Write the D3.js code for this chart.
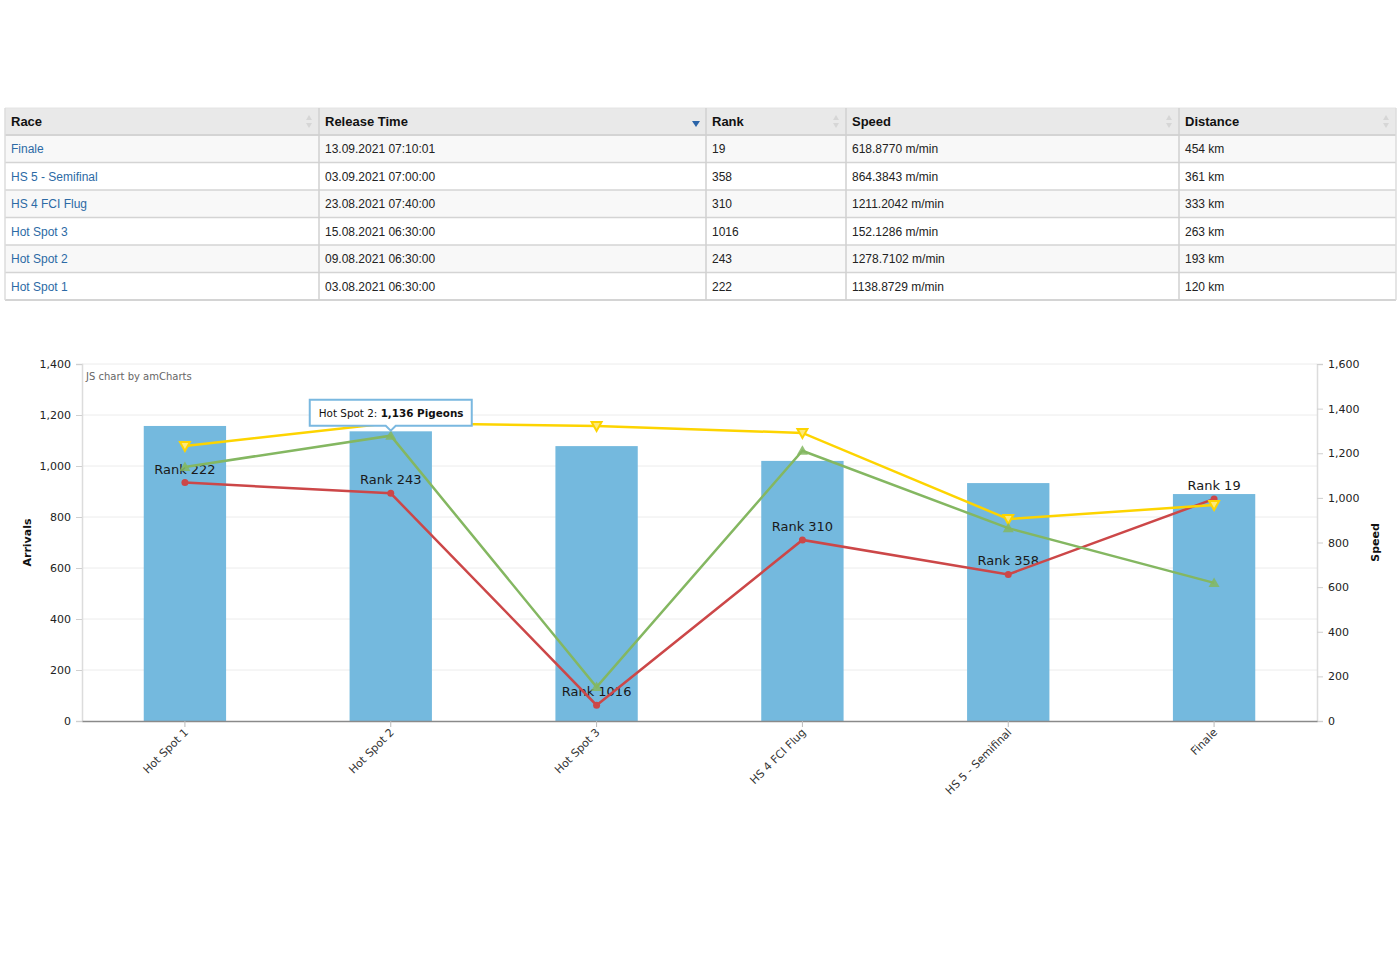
<!DOCTYPE html>
<html>
<head>
<meta charset="utf-8">
<script src="https://cdn.jsdelivr.net/npm/d3@7/dist/d3.min.js"></script>
<style>
	body { margin: 0; background: #fff; }
	svg { display: block; }
</style>
</head>
<body>
<div id="viz"></div>
<script>
"use strict";

// ---- table data (rows in the order shown, newest first)
var tableCols = ["Race", "Release Time", "Rank", "Speed", "Distance"];
var tableRaces = ["Finale", "HS 5 - Semifinal", "HS 4 FCI Flug", "Hot Spot 3", "Hot Spot 2", "Hot Spot 1"];
var releaseTimes = ["13.09.2021 07:10:01", "03.09.2021 07:00:00", "23.08.2021 07:40:00",
	"15.08.2021 06:30:00", "09.08.2021 06:30:00", "03.08.2021 06:30:00"];
var tableRanks = ["19", "358", "310", "1016", "243", "222"];
var tableSpeeds = ["618.8770 m/min", "864.3843 m/min", "1211.2042 m/min",
	"152.1286 m/min", "1278.7102 m/min", "1138.8729 m/min"];
var distances = ["454 km", "361 km", "333 km", "263 km", "193 km", "120 km"];

// ---- chart data (oldest first)
var races = ["Hot Spot 1", "Hot Spot 2", "Hot Spot 3", "HS 4 FCI Flug", "HS 5 - Semifinal", "Finale"];
var arrivals = [1157, 1136, 1078, 1020, 933, 890];      // bars, left axis
var ranks = [222, 243, 1016, 310, 358, 19];
var behindCount = [935, 893, 62, 710, 575, 871];       // red line, left axis
var speed = [1138.87, 1278.71, 152.13, 1211.20, 864.38, 618.88]; // green line, right axis
var topSpeed = [1233, 1336, 1322, 1291, 905, 968];     // yellow line, right axis
var leftTicks = [0, 200, 400, 600, 800, 1000, 1200, 1400];
var rightTicks = [0, 200, 400, 600, 800, 1000, 1200, 1400, 1600];

var W = 1400, H = 960,
	font = "'DejaVu Sans', Verdana, sans-serif",
	tableFont = "Arial, 'Liberation Sans', sans-serif",
	blue = "#74b9de",
	red = "#cc4748",
	green = "#84b761",
	yellow = "#fdd400";

var svg = d3.select("#viz")
	.append("svg")
	.attr("width", W)
	.attr("height", H)

// =================== TABLE ===================
var colEdges = [5, 319, 706, 846, 1179, 1396],
	headTop = 108,
	headH = 27,
	rowH = 27.5

var table = svg.append("g").attr("font-family", tableFont)

var rows = tableRaces.map(function(r, i) {
	return [r, releaseTimes[i], tableRanks[i], tableSpeeds[i], distances[i]]
})

// header
table.append("rect")
	.attr("x", colEdges[0]).attr("y", headTop)
	.attr("width", colEdges[5] - colEdges[0]).attr("height", headH)
	.attr("fill", "#e9e9e9")

tableCols.forEach(function(c, i) {
	table.append("text")
		.attr("x", colEdges[i] + 6)
		.attr("y", headTop + headH / 2 + 4.5)
		.attr("font-size", "13px")
		.attr("font-weight", "bold")
		.attr("fill", "#111")
		.text(c)
	var ax = colEdges[i + 1] - 10
	if (i === 1) {
		table.append("path")
			.attr("d", "M" + (ax - 4) + "," + (headTop + 13) + " L" + (ax + 4) + "," + (headTop + 13) + " L" + ax + "," + (headTop + 19) + " Z")
			.attr("fill", "#2a64a8")
	} else {
		table.append("path")
			.attr("d", "M" + (ax - 3) + "," + (headTop + 12) + " L" + (ax + 3) + "," + (headTop + 12) + " L" + ax + "," + (headTop + 7) + " Z" +
				" M" + (ax - 3) + "," + (headTop + 15) + " L" + (ax + 3) + "," + (headTop + 15) + " L" + ax + "," + (headTop + 20) + " Z")
			.attr("fill", "#d6d6d6")
	}
})

// body rows
var rowG = table.selectAll("g.row")
	.data(rows)
	.enter()
	.append("g")
	.attr("class", "row")
	.attr("transform", function(d, i) { return "translate(0," + (headTop + headH + i * rowH) + ")" })

rowG.append("rect")
	.attr("x", colEdges[0]).attr("y", 0)
	.attr("width", colEdges[5] - colEdges[0]).attr("height", rowH)
	.attr("fill", function(d, i) { return i % 2 === 0 ? "#f8f8f8" : "#ffffff" })

rowG.selectAll("text")
	.data(function(d) { return d })
	.enter()
	.append("text")
	.attr("x", function(d, i) { return colEdges[i] + 6 })
	.attr("y", rowH / 2 + 4.5)
	.attr("font-size", "12px")
	.attr("fill", function(d, i) { return i === 0 ? "#2c6aa5" : "#222" })
	.text(function(d) { return d })

// grid lines of the table
for (var r = 0; r <= rows.length; r++) {
	var yy = headTop + headH + r * rowH
	table.append("line")
		.attr("x1", colEdges[0]).attr("x2", colEdges[5])
		.attr("y1", yy).attr("y2", yy)
		.attr("stroke", "#d4d4d4").attr("stroke-width", r === 0 || r === rows.length ? 2 : 1.5)
}
table.append("line")
	.attr("x1", colEdges[0]).attr("x2", colEdges[5])
	.attr("y1", headTop).attr("y2", headTop)
	.attr("stroke", "#e4e4e4")
colEdges.forEach(function(x, i) {
	table.append("line")
		.attr("x1", x).attr("x2", x)
		.attr("y1", headTop).attr("y2", headTop + headH + rows.length * rowH)
		.attr("stroke", i === 0 || i === colEdges.length - 1 ? "#dcdcdc" : "#d0d0d0")
		.attr("stroke-width", 1.5)
})

// =================== CHART ===================
var plot = { left: 82, right: 1317, top: 364, bottom: 721 }

var x = d3.scaleBand()
	.domain(races)
	.range([plot.left, plot.right])
	.paddingInner(0.6)
	.paddingOuter(0.3)

var yL = d3.scaleLinear().domain([0, 1400]).range([plot.bottom, plot.top])
var yR = d3.scaleLinear().domain([0, 1600]).range([plot.bottom, plot.top])
var fmt = d3.format(",")
var cx = function(d, i) { return x(races[i]) + x.bandwidth() / 2 }

var chart = svg.append("g").attr("font-family", font)

// horizontal grid
chart.append("g")
	.selectAll("line")
	.data(leftTicks.slice(1))
	.enter()
	.append("line")
	.attr("x1", plot.left).attr("x2", plot.right)
	.attr("y1", function(d) { return yL(d) }).attr("y2", function(d) { return yL(d) })
	.attr("stroke", "#ececec")

// left axis
var leftAxis = chart.append("g")
	.attr("transform", "translate(" + plot.left + ",0)")
	.call(d3.axisLeft(yL).tickValues(leftTicks).tickFormat(fmt).tickSize(6).tickPadding(5))
leftAxis.select(".domain").attr("stroke", "#dcdcdc").attr("stroke-width", 1.5)
leftAxis.selectAll(".tick line").attr("stroke", "#cfcfcf")
leftAxis.selectAll("text").attr("font-family", font).attr("font-size", "11px").attr("fill", "#222")

// right axis
var rightAxis = chart.append("g")
	.attr("transform", "translate(" + plot.right + ",0)")
	.call(d3.axisRight(yR).tickValues(rightTicks).tickFormat(fmt).tickSize(6).tickPadding(5))
rightAxis.select(".domain").attr("stroke", "#dcdcdc").attr("stroke-width", 1.5)
rightAxis.selectAll(".tick line").attr("stroke", "#cfcfcf")
rightAxis.selectAll("text").attr("font-family", font).attr("font-size", "11px").attr("fill", "#222")

// bars
chart.append("g")
	.selectAll("rect")
	.data(arrivals)
	.enter()
	.append("rect")
	.attr("x", function(d, i) { return x(races[i]) })
	.attr("y", function(d) { return yL(d) })
	.attr("width", x.bandwidth())
	.attr("height", function(d) { return plot.bottom - yL(d) })
	.attr("fill", blue)

// bottom axis
var bottomAxis = chart.append("g")
	.attr("transform", "translate(0," + plot.bottom + ")")
	.call(d3.axisBottom(x).tickSize(6).tickSizeOuter(0))
bottomAxis.select(".domain").attr("stroke", "#8a8a8a").attr("stroke-width", 1.5)
bottomAxis.selectAll(".tick line").attr("stroke", "#bbb")
bottomAxis.selectAll("text")
	.attr("font-family", font)
	.attr("font-size", "11px")
	.attr("fill", "#333")
	.attr("text-anchor", "end")
	.attr("dy", null)
	.attr("y", 0)
	.attr("transform", "translate(4,12) rotate(-45)")

// rank labels (sit above the red points)
chart.append("g")
	.selectAll("text")
	.data(ranks)
	.enter()
	.append("text")
	.attr("x", cx)
	.attr("y", function(d, i) { return yL(behindCount[i]) - 9 })
	.attr("text-anchor", "middle")
	.attr("font-size", "13px")
	.attr("fill", "#1a1a1a")
	.text(function(d) { return "Rank " + d })

var lineGen = function(scale) {
	return d3.line()
		.x(function(d, i) { return cx(d, i) })
		.y(function(d) { return scale(d) })
}

// red line
chart.append("path")
	.attr("d", lineGen(yL)(behindCount))
	.attr("fill", "none").attr("stroke", red).attr("stroke-width", 2.5)
chart.append("g")
	.selectAll("circle")
	.data(behindCount)
	.enter()
	.append("circle")
	.attr("cx", cx)
	.attr("cy", function(d) { return yL(d) })
	.attr("r", 3.5)
	.attr("fill", red)

// yellow line, triangle down
chart.append("path")
	.attr("d", lineGen(yR)(topSpeed))
	.attr("fill", "none").attr("stroke", yellow).attr("stroke-width", 2.5)
chart.append("g")
	.selectAll("path")
	.data(topSpeed)
	.enter()
	.append("path")
	.attr("d", "M-5,-4 L5,-4 L0,5 Z")
	.attr("transform", function(d, i) { return "translate(" + cx(d, i) + "," + yR(d) + ")" })
	.attr("fill", "#fde97a")
	.attr("stroke", yellow)
	.attr("stroke-width", 2)

// green line, triangle up
chart.append("path")
	.attr("d", lineGen(yR)(speed))
	.attr("fill", "none").attr("stroke", green).attr("stroke-width", 2.5)
chart.append("g")
	.selectAll("path")
	.data(speed)
	.enter()
	.append("path")
	.attr("d", "M-5.5,4 L5.5,4 L0,-5.5 Z")
	.attr("transform", function(d, i) { return "translate(" + cx(d, i) + "," + yR(d) + ")" })
	.attr("fill", green)
	.attr("fill-opacity", 0.85)

// axis titles
chart.append("text")
	.attr("transform", "translate(31," + ((plot.top + plot.bottom) / 2) + ") rotate(-90)")
	.attr("text-anchor", "middle")
	.attr("font-size", "11px").attr("font-weight", "bold").attr("fill", "#111")
	.text("Arrivals")
chart.append("text")
	.attr("transform", "translate(1379," + ((plot.top + plot.bottom) / 2) + ") rotate(-90)")
	.attr("text-anchor", "middle")
	.attr("font-size", "11px").attr("font-weight", "bold").attr("fill", "#111")
	.text("Speed")

// credit
chart.append("text")
	.attr("x", plot.left + 4).attr("y", 380)
	.attr("font-size", "10px").attr("fill", "#666")
	.text("JS chart by amCharts")

// tooltip on Hot Spot 2 (points at the green marker)
var tipIdx = 1,
	tipX = cx(null, tipIdx),
	tipY = yR(speed[tipIdx]) - 4,
	tipW = 162, tipH = 26,
	tipTop = tipY - 6 - tipH
var tip = chart.append("g")
tip.append("path")
	.attr("d", "M" + (tipX - tipW / 2) + "," + tipTop +
		" h" + tipW + " v" + tipH + " H" + (tipX + 5) + " L" + tipX + "," + (tipY - 1) +
		" L" + (tipX - 5) + "," + (tipTop + tipH) + " H" + (tipX - tipW / 2) + " Z")
	.attr("fill", "#fff")
	.attr("stroke", "#7ab8e0")
	.attr("stroke-width", 2)
var tipText = tip.append("text")
	.attr("x", tipX - tipW / 2 + 9)
	.attr("y", tipTop + 17)
	.attr("font-size", "10.4px")
	.attr("fill", "#111")
tipText.append("tspan").text(races[tipIdx] + ": ")
tipText.append("tspan").attr("font-weight", "bold").text(fmt(arrivals[tipIdx]) + " Pigeons")
</script>
</body>
</html>
